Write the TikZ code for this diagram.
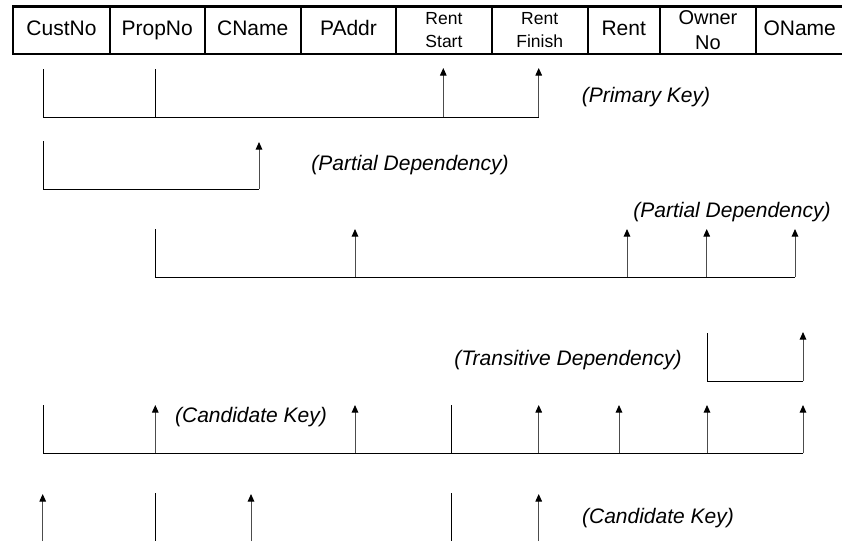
\documentclass[tikz,border=0pt]{standalone}
\usepackage{fontspec}
\setmainfont{Liberation Sans}
\usetikzlibrary{arrows.meta}
\begin{document}
\begin{tikzpicture}[x=1pt,y=-1pt,
  cell/.style={draw, line width=2.4pt, minimum height=47.7pt, inner sep=0pt, anchor=north west, font=\fontsize{21}{25}\selectfont},
  one/.style={text height=15.2pt, text depth=4.4pt},
  small/.style={align=center, font=\fontsize{17.5}{23.3}\selectfont},
  mid/.style={align=center, font=\fontsize{20}{24.5}\selectfont},
  lbl/.style={font=\fontsize{21}{25}\selectfont\itshape, inner sep=0pt},
  ln/.style={line width=1pt},
  up/.style={line width=1pt, draw=black!70, -{Triangle[width=6.5pt,length=7.5pt,color=black]}}]
\useasboundingbox (0,0) rectangle (842,541);
% header
\node[cell, one, minimum width=96.5pt] (c1) at (12,5.3) {CustNo};
\node[cell, one, minimum width=95pt] (c2) at (108.5,5.3) {PropNo};
\node[cell, one, minimum width=96pt] (c3) at (203.5,5.3) {CName};
\node[cell, one, minimum width=95.5pt] (c4) at (299.5,5.3) {PAddr};
\node[cell, minimum width=95.5pt, small] (c5) at (395,5.3) {Rent\\Start};
\node[cell, minimum width=96pt, small] (c6) at (490.5,5.3) {Rent\\Finish};
\node[cell, one, minimum width=72pt] (c7) at (586.5,5.3) {Rent};
\node[cell, minimum width=96.5pt, mid] (c8) at (658.5,5.3) {Owner\\No};
\node[cell, one, minimum width=87pt] (c9) at (755,5.3) {OName};
% row 1: primary key
\draw[ln] (43,69) -- (43,117) -- (538.7,117);
\draw[ln] (155.3,69) -- (155.3,117);
\draw[up] (443.3,117) -- (443.3,68);
\draw[up] (538.7,117) -- (538.7,68);
\node[lbl] (l1) at (646,97) {(Primary Key)};
% row 2: partial dependency
\draw[ln] (43,141) -- (43,189) -- (259,189);
\draw[up] (259,189) -- (259,142);
\node[lbl] (l2) at (410,165) {(Partial Dependency)};
% row 3: partial dependency
\draw[ln] (155.3,229) -- (155.3,277) -- (795,277);
\foreach \x in {355,627,706.7,795} \draw[up] (\x,277) -- (\x,229);
\node[lbl] (l3) at (732,212) {(Partial Dependency)};
% row 4: transitive dependency
\draw[ln] (707,333) -- (707,381) -- (803,381);
\draw[up] (803,381) -- (803,332);
\node[lbl] (l4) at (568,360) {(Transitive Dependency)};
% row 5: candidate key
\draw[ln] (43,405) -- (43,453.3) -- (803,453.3);
\draw[ln] (451,405) -- (451,453.3);
\foreach \x in {155.3,355,538.7,619,707,803} \draw[up] (\x,453.3) -- (\x,405);
\node[lbl] (l5) at (251,417) {(Candidate Key)};
% row 6: candidate key
\draw[ln] (155.3,493) -- (155.3,541);
\draw[ln] (451,493) -- (451,541);
\foreach \x in {42.7,251,538.7} \draw[up] (\x,541) -- (\x,494);
\node[lbl] (l6) at (658,518) {(Candidate Key)};
\end{tikzpicture}
\end{document}
